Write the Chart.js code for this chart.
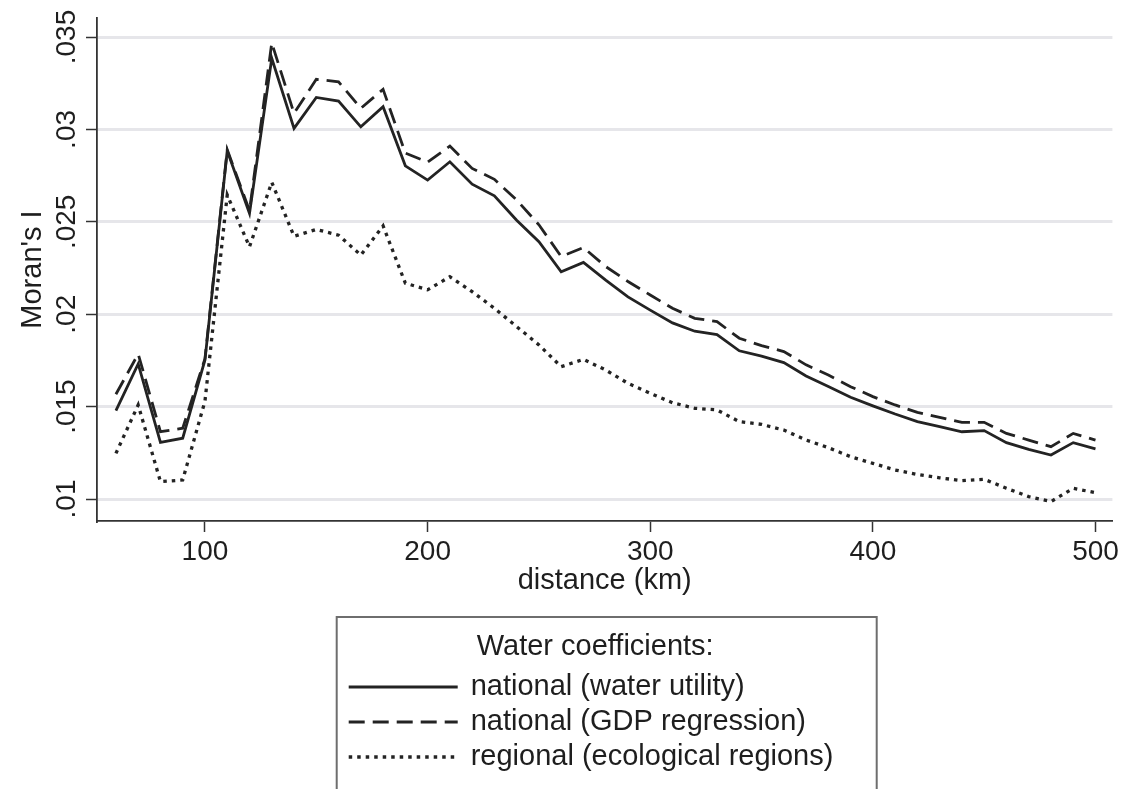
<!DOCTYPE html>
<html>
<head>
<meta charset="utf-8">
<script src="https://cdn.jsdelivr.net/npm/chart.js@4.4.0/dist/chart.umd.min.js"></script>
<style>
  html, body { margin: 0; padding: 0; background: #ffffff; }
  #wrap { width: 1122px; height: 789px; position: relative; }
</style>
</head>
<body>
<div id="wrap"><canvas id="c" width="1122" height="789"></canvas></div>
<script>
// ---- data ----
const distances = [60, 70, 80, 90, 100, 110, 120, 130, 140, 150, 160, 170, 180, 190, 200,
  210, 220, 230, 240, 250, 260, 270, 280, 290, 300, 310, 320, 330, 340, 350,
  360, 370, 380, 390, 400, 410, 420, 430, 440, 450, 460, 470, 480, 490, 500];

const nationalWaterUtility = [0.01478, 0.01731, 0.01307, 0.01329, 0.01753, 0.02884, 0.02545, 0.03385, 0.03006, 0.03173,
  0.03153, 0.03014, 0.03123, 0.02803, 0.02726, 0.02825, 0.02704, 0.02641, 0.02509, 0.02392,
  0.02229, 0.02280, 0.02184, 0.02094, 0.02022, 0.01953, 0.01908, 0.01890, 0.01802, 0.01773,
  0.01738, 0.01666, 0.01609, 0.01551, 0.01504, 0.01460, 0.01419, 0.01392, 0.01364, 0.01370,
  0.01305, 0.01269, 0.01238, 0.01305, 0.01271];

const nationalGDPRegression = [0.01567, 0.01785, 0.01364, 0.01383, 0.01760, 0.02890, 0.02560, 0.03469, 0.03087, 0.03271,
  0.03258, 0.03114, 0.03217, 0.02872, 0.02823, 0.02910, 0.02789, 0.02730, 0.02618, 0.02484,
  0.02312, 0.02361, 0.02258, 0.02177, 0.02104, 0.02032, 0.01978, 0.01960, 0.01870, 0.01830,
  0.01798, 0.01726, 0.01671, 0.01608, 0.01554, 0.01509, 0.01469, 0.01442, 0.01415, 0.01415,
  0.01355, 0.01319, 0.01283, 0.01355, 0.01319];

const regionalEcological = [0.01247, 0.01509, 0.01094, 0.01103, 0.01530, 0.02645, 0.02365, 0.02714, 0.02422, 0.02459,
  0.02428, 0.02320, 0.02478, 0.02168, 0.02132, 0.02203, 0.02122, 0.02032, 0.01933, 0.01834,
  0.01716, 0.01756, 0.01698, 0.01626, 0.01572, 0.01521, 0.01491, 0.01482, 0.01419, 0.01404,
  0.01373, 0.01319, 0.01278, 0.01229, 0.01193, 0.01157, 0.01133, 0.01115, 0.01099, 0.01107,
  0.01058, 0.01013, 0.00986, 0.01058, 0.01034];

const seriesLabels = ["national (water utility)", "national (GDP regression)", "regional (ecological regions)"];
const legendTitle = "Water coefficients:";
const xTickValues = [100, 200, 300, 400, 500];
const yTickValues = [0.01, 0.015, 0.02, 0.025, 0.03, 0.035];
const xAxisTitle = "distance (km)";
const yAxisTitle = "Moran's I";

// ---- styling ----
const FONT = "'Liberation Sans', Arial, Helvetica, sans-serif";
const INK = '#1e1e1e';
const LINE = '#232323';

function pairs(ys) { return distances.map((d, i) => ({ x: d, y: ys[i] })); }

const lineStyles = [
  { borderDash: [], borderWidth: 2.8 },
  { borderDash: [16, 8], borderWidth: 2.8 },
  { borderDash: [3.5, 5], borderWidth: 3.3 }
];

const datasets = [nationalWaterUtility, nationalGDPRegression, regionalEcological].map((vals, i) => ({
  label: seriesLabels[i],
  data: pairs(vals),
  borderColor: LINE,
  backgroundColor: LINE,
  borderWidth: lineStyles[i].borderWidth,
  borderDash: lineStyles[i].borderDash,
  borderCapStyle: 'butt',
  borderJoinStyle: 'miter',
  pointRadius: 0,
  tension: 0,
  fill: false
}));

// custom Stata-like legend box under the plot
const stataLegend = {
  id: 'stataLegend',
  afterDraw(chart) {
    const ctx = chart.ctx;
    const ca = chart.chartArea;
    const cx = (ca.left + ca.right) / 2 + 2;
    const boxL = cx - 270, boxR = cx + 270, boxT = 617;
    ctx.save();
    ctx.strokeStyle = '#6e6e6e';
    ctx.lineWidth = 2;
    ctx.beginPath();
    ctx.moveTo(boxL, chart.height + 5);
    ctx.lineTo(boxL, boxT);
    ctx.lineTo(boxR, boxT);
    ctx.lineTo(boxR, chart.height + 5);
    ctx.stroke();

    ctx.fillStyle = INK;
    ctx.font = "29px " + FONT;
    ctx.textBaseline = 'middle';
    ctx.textAlign = 'left';
    ctx.fillText(legendTitle, boxL + 140, 647);

    const rows = [687, 722, 757];
    chart.data.datasets.forEach((ds, i) => {
      ctx.save();
      ctx.strokeStyle = ds.borderColor;
      ctx.lineWidth = ds.borderWidth + 0.4;
      ctx.setLineDash(ds.borderDash || []);
      ctx.lineCap = 'butt';
      ctx.beginPath();
      ctx.moveTo(boxL + 12, rows[i]);
      ctx.lineTo(boxL + 121, rows[i]);
      ctx.stroke();
      ctx.restore();
      ctx.fillText(ds.label, boxL + 134, rows[i]);
    });
    ctx.restore();
  }
};

Chart.defaults.font.family = FONT;
Chart.defaults.color = INK;

new Chart(document.getElementById('c'), {
  type: 'line',
  data: { datasets },
  plugins: [stataLegend],
  options: {
    responsive: false,
    animation: false,
    devicePixelRatio: 1,
    layout: { padding: { top: 18, right: 9, bottom: 189, left: 0 } },
    plugins: { legend: { display: false }, tooltip: { enabled: false } },
    scales: {
      x: {
        type: 'linear',
        min: 51.5,
        max: 507.6,
        afterBuildTicks: (s) => { s.ticks = xTickValues.map(v => ({ value: v })); },
        afterFit: (s) => { s.height = 79; },
        ticks: {
          font: { size: 28 },
          color: INK,
          padding: 3,
          maxRotation: 0,
          minRotation: 0,
          callback: (v) => String(v)
        },
        grid: {
          drawOnChartArea: false,
          drawTicks: true,
          tickLength: 11,
          tickColor: '#333',
          tickWidth: 1.5
        },
        border: { display: true, color: '#333', width: 1.8 },
        title: {
          display: true,
          text: xAxisTitle,
          font: { size: 29 },
          color: INK,
          padding: { top: 0, bottom: 1.6 }
        }
      },
      y: {
        type: 'linear',
        min: 0.00881,
        max: 0.03603,
        afterBuildTicks: (s) => { s.ticks = yTickValues.map(v => ({ value: v })); },
        afterFit: (s) => { s.width = 97; },
        ticks: {
          font: { size: 28 },
          color: INK,
          padding: -9,
          minRotation: 90,
          maxRotation: 90,
          crossAlign: 'center',
          callback: (v) => String(v).replace(/^0\./, '.')
        },
        grid: {
          drawOnChartArea: true,
          color: '#e6e6ea',
          lineWidth: 3,
          drawTicks: true,
          tickLength: 11,
          tickColor: '#333',
          tickWidth: 1.5
        },
        border: { display: true, color: '#333', width: 1.8 },
        title: {
          display: true,
          text: yAxisTitle,
          font: { size: 29 },
          color: INK,
          padding: { top: 15.6, bottom: 0 }
        }
      }
    }
  }
});
</script>
</body>
</html>
